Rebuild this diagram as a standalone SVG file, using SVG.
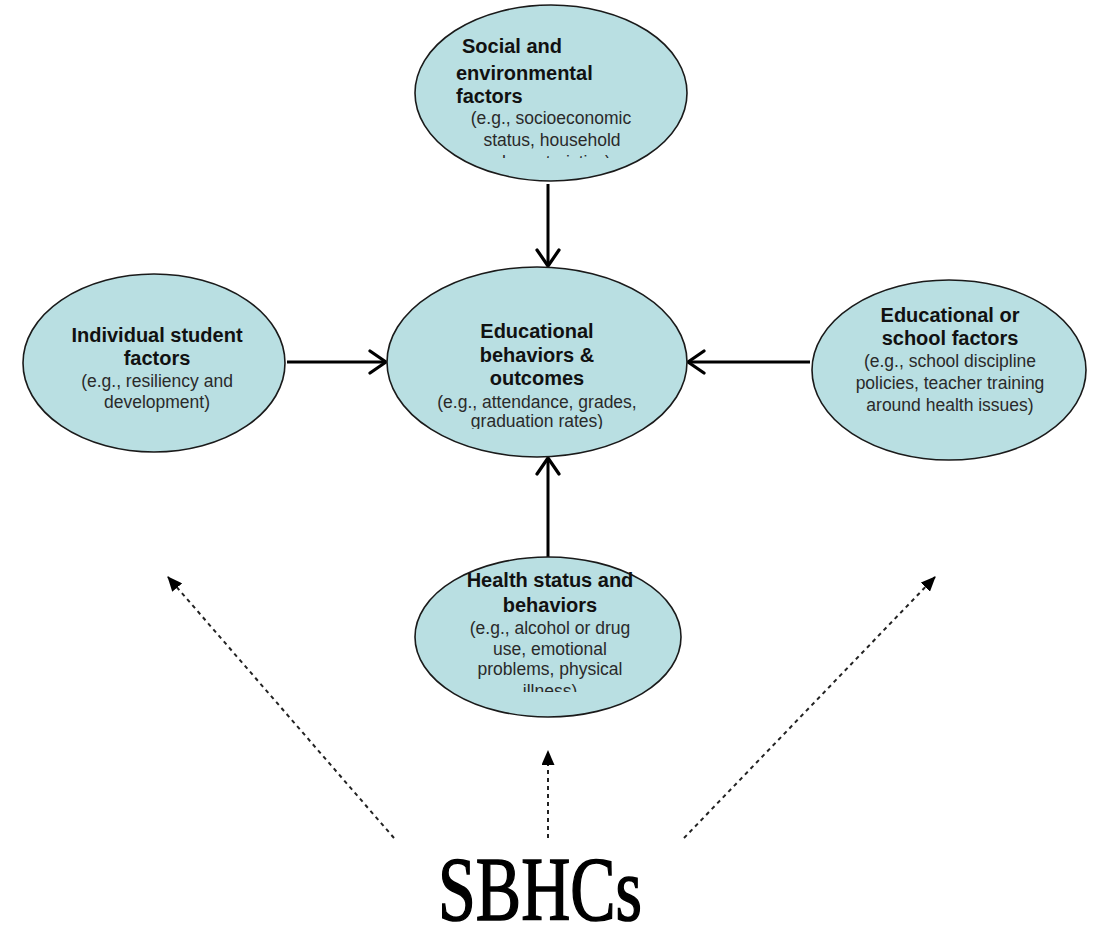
<svg xmlns="http://www.w3.org/2000/svg" width="1097" height="929" viewBox="0 0 1097 929">
<style>
.node ellipse{fill:#b9dfe2;stroke:#1a1a1a;stroke-width:1.6}
.t{font-family:"Liberation Sans",Arial,sans-serif;font-weight:bold;font-size:20px;fill:#111;text-anchor:middle}
.s{font-family:"Liberation Sans",Arial,sans-serif;font-size:17.5px;fill:#2a2a2a;text-anchor:middle}
.solid{stroke:#000;stroke-width:3;fill:none;marker-end:url(#open)}
.dash{stroke:#222;stroke-width:2;fill:none;stroke-dasharray:4 4;marker-end:url(#tri)}
</style>
<defs>
<marker id="open" markerUnits="userSpaceOnUse" viewBox="0 0 22 26" refX="19" refY="13" markerWidth="22" markerHeight="26" orient="auto">
<path d="M3,2 L19,13 L3,24" fill="none" stroke="#000" stroke-width="3.2" stroke-linecap="round" stroke-linejoin="round"/>
</marker>
<marker id="tri" markerUnits="userSpaceOnUse" viewBox="0 0 15 13" refX="14" refY="6.5" markerWidth="15" markerHeight="13" orient="auto">
<path d="M0,0 L15,6.5 L0,13 z" fill="#000"/>
</marker>
<clipPath id="clipTop"><rect x="400" y="0" width="300" height="158"/></clipPath>
<clipPath id="clipMid"><rect x="380" y="260" width="320" height="169"/></clipPath>
<clipPath id="clipBot"><rect x="400" y="550" width="300" height="142"/></clipPath>
</defs>
<rect width="1097" height="929" fill="#fff"/>
<g id="connectors">
<line class="solid" x1="548" y1="184" x2="548" y2="266"/>
<line class="solid" x1="287" y1="362" x2="386" y2="362"/>
<line class="solid" x1="810" y1="362" x2="688" y2="362"/>
<line class="solid" x1="548" y1="557" x2="548" y2="458"/>
<line class="dash" x1="394" y1="838" x2="168" y2="577"/>
<line class="dash" x1="548" y1="838" x2="548" y2="751"/>
<line class="dash" x1="684" y1="838" x2="935" y2="577"/>
</g>
<g id="node-social" class="node">
<ellipse cx="551" cy="93" rx="136" ry="88"/>
<text class="t" style="text-anchor:start" x="462" y="53">Social and</text>
<text class="t" style="text-anchor:start" x="456" y="80">environmental</text>
<text class="t" style="text-anchor:start" x="456" y="103">factors</text>
<text class="s" x="551" y="124">(e.g., socioeconomic</text>
<text class="s" x="552" y="146">status, household</text>
<text class="s" x="552" y="168" clip-path="url(#clipTop)">characteristics)</text>
</g>
<g id="node-outcomes" class="node">
<ellipse cx="537" cy="362" rx="150" ry="95"/>
<text class="t" x="537" y="338">Educational</text>
<text class="t" x="537" y="362">behaviors &amp;</text>
<text class="t" x="537" y="385">outcomes</text>
<text class="s" x="537" y="408">(e.g., attendance, grades,</text>
<text class="s" x="537" y="427" clip-path="url(#clipMid)">graduation rates)</text>
</g>
<g id="node-individual" class="node">
<ellipse cx="154" cy="363" rx="131" ry="89"/>
<text class="t" x="157" y="342">Individual student</text>
<text class="t" x="157" y="365">factors</text>
<text class="s" x="157" y="387">(e.g., resiliency and</text>
<text class="s" x="157" y="408">development)</text>
</g>
<g id="node-school" class="node">
<ellipse cx="949" cy="370" rx="137" ry="90"/>
<text class="t" x="950" y="322">Educational or</text>
<text class="t" x="950" y="345">school factors</text>
<text class="s" x="950" y="367">(e.g., school discipline</text>
<text class="s" x="950" y="389">policies, teacher training</text>
<text class="s" x="950" y="411">around health issues)</text>
</g>
<g id="node-health" class="node">
<ellipse cx="548" cy="637" rx="133" ry="80"/>
<text class="t" x="550" y="587">Health status and</text>
<text class="t" x="550" y="612">behaviors</text>
<text class="s" x="550" y="634">(e.g., alcohol or drug</text>
<text class="s" x="550" y="655">use, emotional</text>
<text class="s" x="550" y="675">problems, physical</text>
<text class="s" x="550" y="697" clip-path="url(#clipBot)">illness)</text>
</g>
<g id="node-sbhcs">
<text x="540" y="920" font-family="'Liberation Serif','Times New Roman',serif" font-size="90" fill="#000" stroke="#000" stroke-width="1.6" text-anchor="middle" textLength="204" lengthAdjust="spacingAndGlyphs">SBHCs</text>
</g>
</svg>
